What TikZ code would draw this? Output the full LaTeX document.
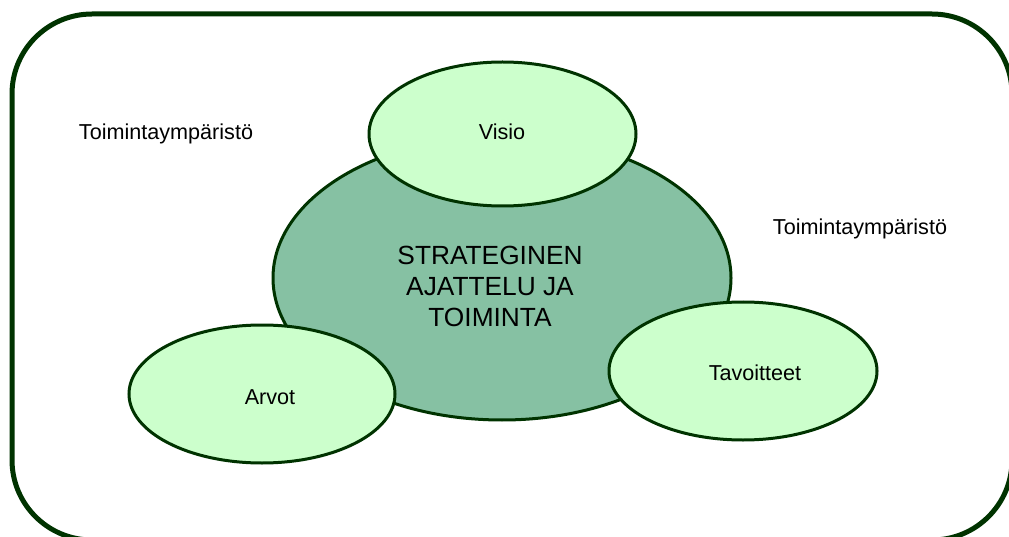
\documentclass[tikz,border=0pt]{standalone}
\usepackage{fontspec}
\setmainfont{Liberation Sans}
\usetikzlibrary{shapes.geometric}

\definecolor{framegreen}{HTML}{003300}
\definecolor{coregreen}{HTML}{86C1A3}
\definecolor{palegreen}{HTML}{CCFFCC}

\tikzset{
    part/.style={ellipse, draw=framegreen, line width=3pt, fill=palegreen, inner sep=0pt},
    small/.style={font=\fontsize{21.6}{25}\selectfont, anchor=base, inner sep=0pt}
}

\begin{document}
\begin{tikzpicture}[x=1pt,y=-1pt]
        \useasboundingbox (0,0) rectangle (1009,537);
        \clip (0,0) rectangle (1009,537);
        % surrounding frame
        \draw[framegreen, line width=5pt, rounded corners=80pt] (12,14) rectangle (1012,540);
        % core ellipse
        \node[part, fill=coregreen, minimum width=458pt, minimum height=284pt] (core) at (502,278) {};
        % the three parts
        \node[part, minimum width=267pt, minimum height=144pt] (visio) at (502.5,134) {};
        \node[part, minimum width=266pt, minimum height=138pt] (arvot) at (262,394) {};
        \node[part, minimum width=268pt, minimum height=138pt] (tavoitteet) at (743,371) {};
        % labels
        \node[font=\fontsize{26.3}{31}\selectfont, align=center, inner sep=0pt] (coretext) at (490,286) {STRATEGINEN\\AJATTELU JA\\TOIMINTA};
        \node[small] (visiotext) at (502,140) {Visio};
        \node[small] (arvottext) at (270,404) {Arvot};
        \node[small] (tavoitteettext) at (755,380) {Tavoitteet};
        % environment
        \node[small] (envleft) at (166,140) {Toimintaympäristö};
        \node[small] (envright) at (860,235) {Toimintaympäristö};
    \end{tikzpicture}
\end{document}
